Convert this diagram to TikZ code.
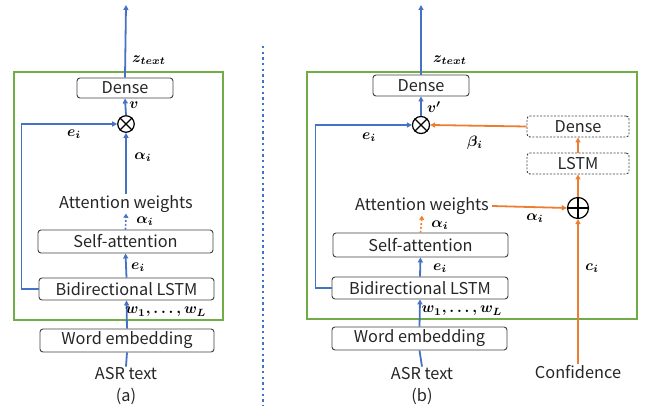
\documentclass[tikz,border=0pt]{standalone}
\usepackage{amsmath}
\usepackage[no-math]{fontspec}
\newfontfamily\jpf{Noto Sans CJK JP}
\usetikzlibrary{arrows.meta}
\definecolor{cblue}{HTML}{4472C4}
\definecolor{corange}{HTML}{ED7D31}
\definecolor{cgreen}{HTML}{70AD47}
\definecolor{cbox}{HTML}{404040}
\tikzset{
  box/.style={draw=cbox, line width=0.9pt, rounded corners=3pt, inner sep=0pt,
    font=\jpf\fontsize{16.3}{17}\selectfont, text=black!85},
  dbox/.style={box, dashed, dash pattern=on 2pt off 1.5pt},
  txt/.style={inner sep=1pt, font=\jpf\fontsize{16.3}{17}\selectfont, text=black!85},
  lbl/.style={inner sep=0pt, scale=1.5, font=\normalsize\boldmath},
  barr/.style={draw=cblue, line width=1.8pt, -{Triangle[length=5pt,width=5pt]}},
  bline/.style={draw=cblue, line width=1.8pt},
  oarr/.style={draw=corange, line width=1.8pt, -{Triangle[length=5pt,width=5pt]}},
  gbox/.style={draw=cgreen, line width=1.6pt},
  op/.style={circle, draw=black, line width=1.2pt, inner sep=0pt},
}
\begin{document}
\begin{tikzpicture}[x=1pt,y=-1pt]
\useasboundingbox (0,0) rectangle (646,409);
% ---------- panel (a) ----------
\draw[gbox] (14,72) rectangle (223,320);
\node[box, minimum width=96pt, minimum height=20pt] (denseA) at (125,88) {Dense};
\node[box, minimum width=175pt, minimum height=23pt] (selfA) at (125.5,241.5) {Self-attention};
\node[box, minimum width=175pt, minimum height=22pt] (bilstmA) at (126.5,289) {Bidirectional LSTM};
\node[box, minimum width=174pt, minimum height=23pt] (wordA) at (127,340.5) {Word embedding};
\node[txt] (attA) at (126,204) {Attention weights};
\node[txt] (asrA) at (126,374) {ASR text};
\node[txt] (capA) at (126,396) {(a)};
\node[op, minimum size=16.5pt] (otA) at (126,124) {};
\draw[line width=1.2pt] (otA.north east) -- (otA.south west) (otA.north west) -- (otA.south east);
\coordinate (topA) at (126,5);
\draw[barr] (denseA.north) -- (topA);
\draw[barr] (otA.north) -- (denseA.south);
\draw[barr] (attA.north) -- (otA.south);
\draw[barr, dotted, line width=1.6pt, -{Triangle[length=4pt,width=5pt]}] (selfA.north) -- (attA.south);
\draw[barr] (bilstmA.north) -- (selfA.south);
\draw[barr] (wordA.north) -- (bilstmA.south);
\draw[bline] (asrA.north) -- (wordA.south);
\draw[barr] (bilstmA.west) -- ++(-17,0) |- (otA.west);
\node[lbl] (zA) at (149,60) {$z_{text}$};
\node[lbl] (vA) at (134,105) {$v$};
\node[lbl] (eA1) at (74,134) {$e_i$};
\node[lbl] (aA1) at (143,157) {$\alpha_i$};
\node[lbl] (aA2) at (145,221) {$\alpha_i$};
\node[lbl] (eA2) at (138,267) {$e_i$};
\node[lbl] (wA) at (166,312) {$w_1,\ldots,w_L$};
% ---------- separator ----------
\coordinate (sepT) at (263,46);
\coordinate (sepB) at (263,406);
\draw[cblue, line width=2.4pt, dash pattern=on 2.4pt off 3.3pt] (sepT) -- (sepB);
% ---------- panel (b) ----------
\draw[gbox] (307,72) rectangle (637,319);
\node[box, minimum width=96pt, minimum height=21pt] (denseB) at (421,85.5) {Dense};
\node[box, minimum width=175pt, minimum height=24pt] (selfB) at (420.5,245) {Self-attention};
\node[box, minimum width=176pt, minimum height=22pt] (bilstmB) at (420,288) {Bidirectional LSTM};
\node[box, minimum width=175pt, minimum height=23pt] (wordB) at (419.5,338.5) {Word embedding};
\node[dbox, minimum width=102pt, minimum height=21pt] (dense2B) at (578,126.5) {Dense};
\node[dbox, minimum width=102pt, minimum height=21pt] (lstmB) at (578,163.5) {LSTM};
\node[txt, inner xsep=3pt] (attB) at (422,206) {Attention weights};
\node[txt] (asrB) at (422,374) {ASR text};
\node[txt] (capB) at (422,396) {(b)};
\node[txt] (confB) at (578,372) {Confidence};
\node[op, minimum size=17pt] (otB) at (421,125) {};
\draw[line width=1.2pt] (otB.north east) -- (otB.south west) (otB.north west) -- (otB.south east);
\node[op, minimum size=21pt] (plB) at (578,208) {};
\draw[line width=1.2pt] (plB.north) -- (plB.south) (plB.west) -- (plB.east);
\coordinate (topB) at (421,5);
\draw[barr] (denseB.north) -- (topB);
\draw[barr] (otB.north) -- (denseB.south);
\draw[oarr] (dense2B.west) -- (otB.east);
\draw[oarr] (lstmB.north) -- (dense2B.south);
\draw[oarr] (plB.north) -- (lstmB.south);
\draw[oarr] (attB.east) -- (plB.west);
\draw[oarr] (confB.north) -- (plB.south);
\draw[oarr, dotted, line width=1.6pt, -{Triangle[length=4pt,width=5pt]}] (selfB.north) -- (attB.south);
\draw[barr] (bilstmB.north) -- (selfB.south);
\draw[barr] (wordB.north) -- (bilstmB.south);
\draw[bline] (asrB.north) -- (wordB.south);
\draw[barr] (bilstmB.west) -- ++(-16,0) |- (otB.west);
\node[lbl] (zB) at (450,60) {$z_{text}$};
\node[lbl] (vB) at (434,107) {$v'$};
\node[lbl] (eB1) at (369,137) {$e_i$};
\node[lbl] (bB) at (475,143) {$\beta_i$};
\node[lbl] (aB1) at (535,218) {$\alpha_i$};
\node[lbl] (aB2) at (440,225) {$\alpha_i$};
\node[lbl] (eB2) at (440,268) {$e_i$};
\node[lbl] (cB) at (592,268) {$c_i$};
\node[lbl] (wB) at (462,311) {$w_1,\ldots,w_L$};
\end{tikzpicture}
\end{document}
